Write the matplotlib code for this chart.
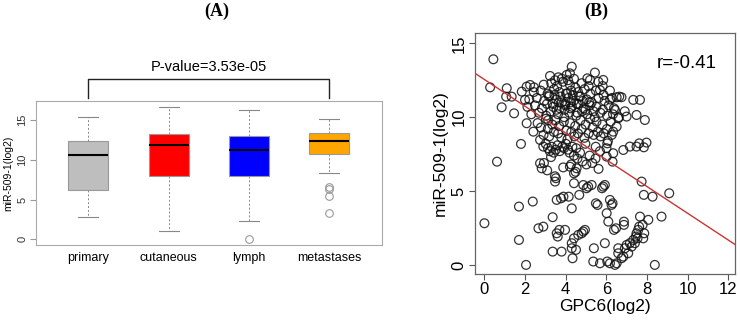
import matplotlib
matplotlib.use("Agg")
import matplotlib.pyplot as plt
import matplotlib.transforms as mtransforms

# ---------------- Panel A data (box statistics) ----------------
groups = ["primary", "cutaneous", "lymph", "metastases"]
box_colors = ["#bebebe", "#ff0000", "#0000ff", "#ffa500"]
whislo = [2.77, 1.0, 2.3, 8.34]
q1 = [6.24, 8.0, 8.0, 10.77]
med = [10.57, 11.9, 11.27, 12.33]
q3 = [12.37, 13.2, 12.95, 13.4]
whishi = [15.35, 16.68, 16.3, 15.17]
fliers = [[], [], [0.0], [6.58, 6.37, 5.48, 3.3]]
p_text = "P-value=3.53e-05"

# ---------------- Panel B data ----------------
gpc6 = [
    0.44, 0.28, 0.0, 0.62, 0.85, 1.1, 1.07, 1.34, 1.46, 1.7, 1.7, 1.8, 2.05, 2.38,
    1.84, 2.08, 2.0, 2.08, 2.25, 2.44, 2.41, 2.66, 2.74, 2.82, 2.9, 2.74, 2.9,
    3.36, 3.48, 3.52, 3.56, 3.61, 3.69, 3.36, 3.97, 3.8, 3.56, 3.77, 3.89, 4.15,
    4.21, 4.3, 4.3, 4.34, 4.3, 4.41, 4.51, 4.62, 4.79, 4.95, 4.87, 4.41, 4.41,
    4.54, 4.67, 4.87, 5.03, 5.11, 5.28, 5.39, 5.36, 5.49, 5.57, 5.69, 5.85, 5.79,
    5.93, 5.93, 6.02, 6.05, 6.1, 6.18, 6.18, 6.26, 6.31, 6.38, 6.48, 6.51, 6.43,
    6.59, 6.59, 6.75, 6.84, 6.87, 6.87, 6.92, 7.0, 7.08, 7.16, 7.25, 7.33, 7.41,
    7.46, 7.49, 7.57, 7.62, 7.54, 7.66, 7.79, 7.82, 7.87, 8.07, 8.39, 8.72, 7.74,
    7.85, 8.28, 9.1, 7.49, 7.62, 7.85, 7.98, 7.33, 7.66, 7.9, 7.49, 7.0, 6.64,
    6.75, 6.51, 6.18, 6.43, 6.59, 6.51, 6.34, 6.84, 7.16, 6.34, 6.31, 6.02, 6.05,
    5.85, 5.2, 5.44, 5.07, 5.82, 5.69, 4.3, 4.05, 4.21, 3.23, 3.64,
    # lower-middle band
    3.02, 3.13, 3.22, 3.31, 3.41, 3.52, 3.6, 3.71, 3.83, 3.92, 4.01, 4.12, 4.19,
    4.33, 4.41, 4.52, 4.58, 4.71, 4.83, 5.02, 5.18, 5.31, 5.47, 5.62, 3.28, 3.09,
    3.47, 3.88, 4.27, 4.49, 2.93,
    # middle
    2.62, 2.78, 2.91, 3.03, 3.12, 3.19, 3.34, 3.42, 3.49, 3.63, 3.68, 3.79, 3.91,
    4.04, 4.09, 4.22, 4.28, 4.43, 4.47, 4.61, 4.73, 4.79, 4.92, 4.98, 5.13, 5.21,
    5.33, 5.38, 5.52, 5.58, 5.72, 5.81, 5.88, 6.03, 6.08, 6.22, 6.27, 4.97, 5.48,
    6.01, 5.69,
    # upper dense cluster
    2.31, 2.68, 3.04, 3.27, 3.62, 3.93, 4.18, 4.52, 4.81, 5.07, 5.43, 5.71, 6.04,
    6.33, 6.62,
    2.12, 2.49, 2.83, 3.08, 3.39, 3.72, 3.98, 4.31, 4.63, 4.88, 5.19, 5.51, 5.83,
    6.12, 6.38, 6.91,
    2.21, 2.58, 2.94, 3.18, 3.53, 3.81, 4.13, 4.39, 4.72, 5.04, 5.28, 5.62, 5.92,
    6.19,
    2.43, 2.77, 3.11, 3.43, 3.69, 4.02, 4.27, 4.61, 4.93, 5.22, 5.49, 5.87, 6.28,
    2.92, 3.29, 3.58, 3.87, 4.21, 4.48, 4.79, 5.13, 5.61,
    3.2, 3.45, 3.75, 4.07, 4.35, 4.66, 3.36, 3.66, 3.97, 4.26, 4.55, 4.84, 3.48,
    3.81, 4.12, 4.41, 5.16, 5.37, 3.14, 3.55, 3.94, 4.24, 4.57, 4.98,
]
mir509 = [
    13.92, 12.02, 2.82, 6.99, 10.67, 11.96, 11.39, 11.39, 10.26, 1.69, 3.95, 8.19,
    0.0, 4.29, 11.73, 12.07, 11.17, 9.59, 12.18, 12.02, 9.02, 2.48, 6.88, 6.54,
    2.59, 8.46, 8.01, 3.23, 5.64, 5.87, 2.14, 1.92, 2.37, 0.9, 2.37, 0.9, 4.4,
    4.51, 4.62, 4.62, 6.65, 3.83, 1.47, 0.45, 1.13, 1.8, 1.02, 2.03, 2.14, 2.37,
    2.26, 6.2, 5.53, 6.54, 4.74, 5.41, 5.19, 5.3, 5.41, 1.13, 0.23, 4.17, 4.06,
    0.11, 5.3, 5.19, 5.41, 1.47, 3.5, 0.23, 2.93, 0.11, 4.4, 4.06, 4.17, 2.37,
    2.48, 0.11, 0.0, 1.13, 0.79, 0.45, 0.56, 2.93, 2.71, 1.13, 1.35, 0.79, 1.47,
    1.24, 1.69, 1.47, 1.92, 2.14, 2.37, 2.59, 1.8, 3.27, 2.71, 1.8, 2.14, 3.05,
    0.0, 3.27, 5.64, 4.74, 4.62, 4.85, 8.01, 8.23, 7.96, 8.28, 11.17, 11.17, 9.81,
    10.15, 10.04, 11.39, 11.35, 11.35, 11.8, 10.49, 9.93, 9.36, 9.02, 7.78, 8.01,
    7.56, 6.99, 7.33, 8.23, 12.52, 12.52, 13.02, 12.63, 12.11, 11.84, 13.42,
    12.86, 12.97, 12.79, 12.7,
    # lower-middle band
    8.2, 7.9, 7.7, 8.0, 7.6, 7.8, 8.1, 7.7, 8.0, 7.9, 8.2, 7.8, 7.6, 8.0, 7.4,
    7.9, 7.2, 7.6, 7.0, 6.8, 7.4, 6.9, 7.2, 6.5, 7.3, 6.4, 6.0, 6.6, 6.8, 6.3, 6.9,
    # middle
    9.6, 9.3, 8.8, 9.9, 9.2, 8.7, 9.5, 9.0, 9.8, 8.9, 9.4, 8.6, 9.7, 9.1, 8.5,
    9.6, 9.0, 8.7, 9.4, 8.9, 9.8, 9.2, 8.6, 9.5, 8.9, 9.9, 9.3, 8.8, 9.7, 9.0,
    8.7, 9.5, 8.9, 9.2, 8.4, 9.7, 8.8, 8.2, 8.0, 7.9, 7.7,
    # upper dense cluster
    10.2, 10.3, 10.1, 10.4, 10.2, 10.0, 10.3, 10.1, 10.4, 10.2, 10.0, 10.3, 10.1,
    10.2, 10.0,
    10.7, 10.8, 10.6, 10.9, 10.7, 10.6, 10.8, 10.7, 10.9, 10.6, 10.8, 10.7, 10.5,
    10.8, 10.6, 10.4,
    11.2, 11.3, 11.1, 11.4, 11.2, 11.0, 11.3, 11.1, 11.4, 11.2, 11.0, 11.3, 11.1,
    11.2,
    11.7, 11.8, 11.6, 11.9, 11.7, 11.6, 11.8, 11.7, 11.9, 11.6, 11.8, 11.5, 11.3,
    12.2, 12.3, 12.1, 12.4, 12.2, 12.0, 12.3, 12.1, 12.4,
    11.5, 11.5, 11.4, 11.6, 11.5, 11.4, 10.9, 11.0, 10.9, 11.0, 10.9, 11.1, 12.5,
    12.6, 12.5, 12.6, 11.0, 10.4, 9.8, 10.5, 10.5, 10.6, 10.3, 10.5,
]
fit_intercept = 12.55
fit_slope = -0.905
r_text = "r=-0.41"

plt.rcParams["font.family"] = ["Liberation Sans", "DejaVu Sans"]

fig = plt.figure(figsize=(7.4, 3.2), dpi=100)

# ---------------- Panel A ----------------
axA = fig.add_axes([0.048, 0.234, 0.468, 0.450])
stats = []
for i, g in enumerate(groups):
    stats.append(dict(label=g, whislo=whislo[i], q1=q1[i], med=med[i],
                      q3=q3[i], whishi=whishi[i], fliers=fliers[i]))
bp = axA.bxp(stats, positions=[1, 2, 3, 4], widths=0.5, patch_artist=True,
             boxprops=dict(edgecolor="#999999", linewidth=0.8),
             medianprops=dict(color="black", linewidth=1.5),
             whiskerprops=dict(color="#888888", linestyle=(0, (2, 2)), linewidth=0.7),
             capprops=dict(color="#888888", linewidth=0.8),
             flierprops=dict(marker="o", markerfacecolor="none",
                             markeredgecolor="#999999", markersize=5.5,
                             markeredgewidth=0.8))
for patch, c in zip(bp["boxes"], box_colors):
    patch.set_facecolor(c)
for cap in bp["caps"]:
    x = cap.get_xdata()
    m = (x[0] + x[1]) / 2
    cap.set_xdata([m - 0.125, m + 0.125])
axA.set_xlim(0.34, 4.66)
axA.set_ylim(-0.72, 17.4)
axA.set_yticks([0, 5, 10, 15])
axA.set_yticklabels(["0", "5", "10", "15"], rotation=90, va="center",
                    fontsize=8, color="#333333")
axA.tick_params(axis="y", length=4, color="#999999", pad=2)
axA.tick_params(axis="x", length=0, labelsize=9, pad=5)
axA.set_xticks([1, 2, 3, 4])
axA.set_xticklabels(groups)
axA.set_ylabel("miR-509-1(log2)", fontsize=7.5, labelpad=3)
for s in axA.spines.values():
    s.set_color("#aaaaaa")
    s.set_linewidth(0.8)

trans = mtransforms.blended_transform_factory(axA.transData, axA.transAxes)
axA.plot([1, 1, 4, 4], [1.021, 1.157, 1.157, 1.021], color="#222222",
         linewidth=1.0, transform=trans, clip_on=False)
axA.text(2.5, 1.238, p_text, transform=trans, ha="center", va="center",
         fontsize=10.5)
fig.text(0.293, 0.963, "(A)", ha="center", va="center", fontsize=13,
         fontweight="bold", family="Liberation Serif")

# ---------------- Panel B ----------------
axB = fig.add_axes([0.642, 0.144, 0.351, 0.752])
axB.scatter(gpc6, mir509, s=40, facecolors="none", edgecolors="#111111",
            linewidths=0.9, alpha=0.85)
xl = (-0.46, 12.33)
axB.plot(list(xl), [fit_intercept + fit_slope * xl[0],
                    fit_intercept + fit_slope * xl[1]],
         color="#cc3333", linewidth=1.0)
axB.set_xlim(*xl)
axB.set_ylim(-0.61, 15.68)
axB.set_xticks([0, 2, 4, 6, 8, 10, 12])
axB.set_yticks([0, 5, 10, 15])
axB.set_yticklabels(["0", "5", "10", "15"], rotation=90, va="center")
axB.tick_params(labelsize=12, length=4, color="#555555", pad=2)
axB.set_xlabel("GPC6(log2)", fontsize=12.5, labelpad=1)
axB.set_ylabel("miR-509-1(log2)", fontsize=12.5, labelpad=3)
axB.text(9.96, 13.65, r_text, ha="center", va="center", fontsize=13.5)
for s in axB.spines.values():
    s.set_color("#666666")
    s.set_linewidth(0.9)
fig.text(0.806, 0.963, "(B)", ha="center", va="center", fontsize=13,
         fontweight="bold", family="Liberation Serif")

fig.savefig("out.png", dpi=100)
